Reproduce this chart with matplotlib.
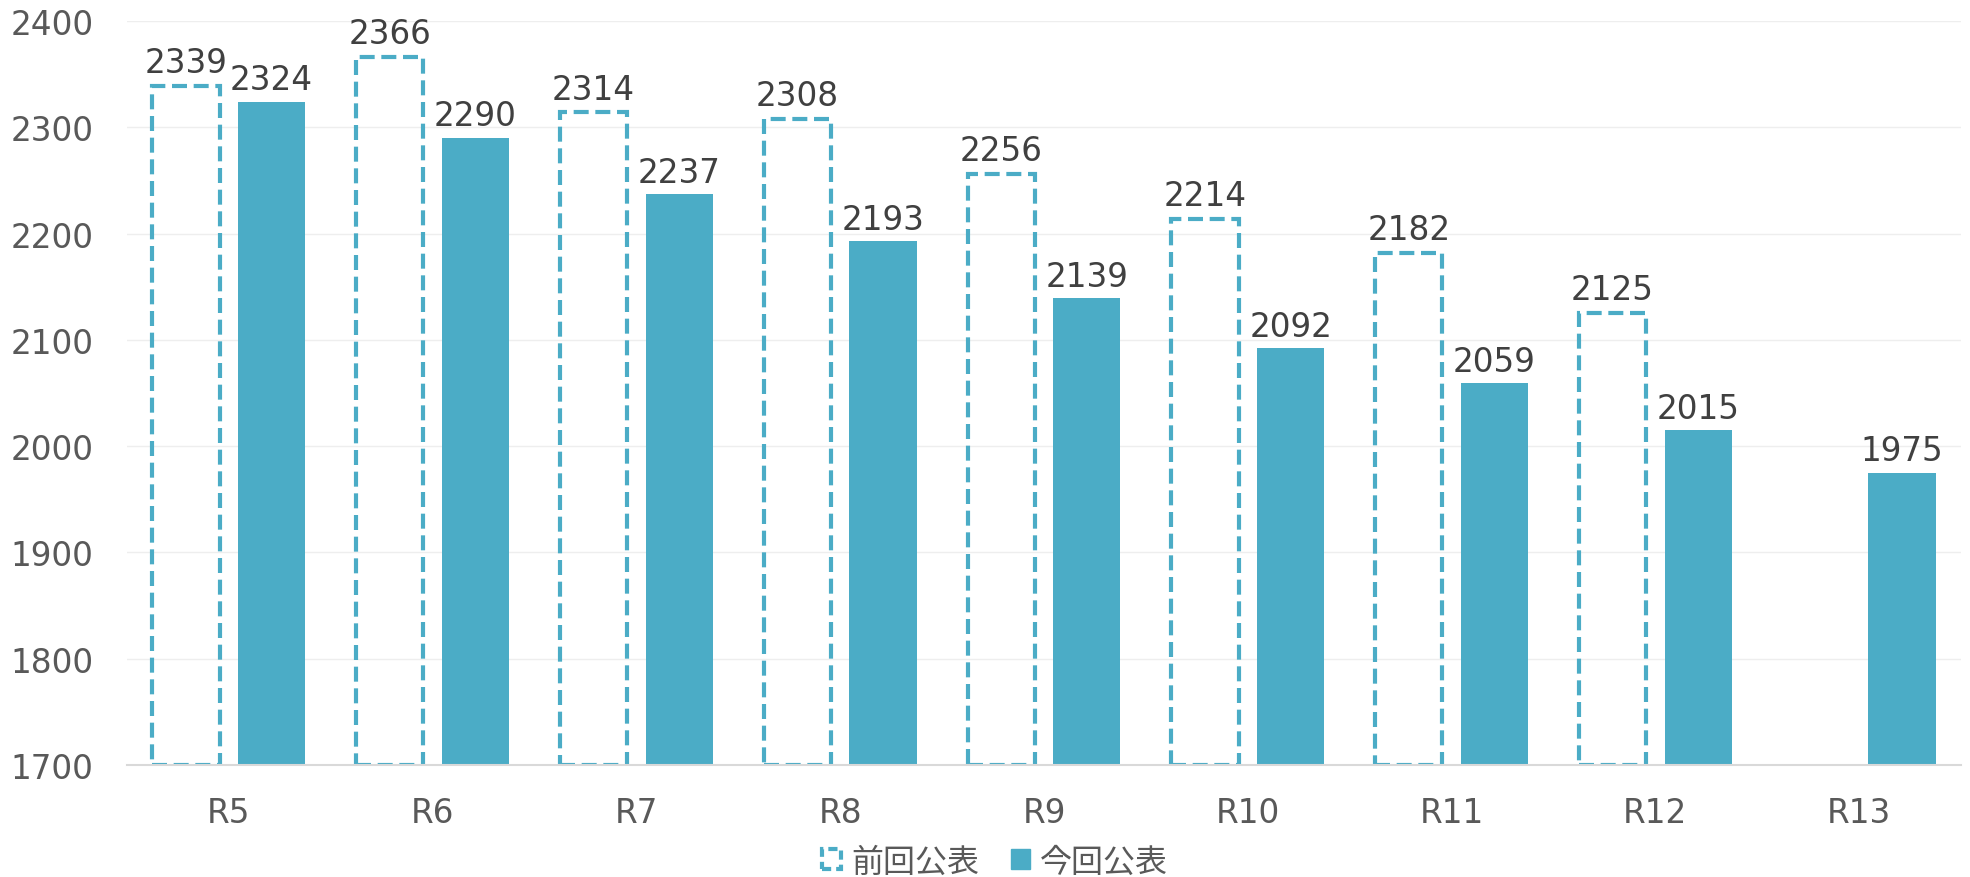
import matplotlib
matplotlib.use("Agg")
import matplotlib.pyplot as plt
import matplotlib.patches as mpatches
import numpy as np

plt.rcParams['font.family'] = ['DejaVu Sans', 'Noto Sans CJK JP']

# data
categories = ['R5', 'R6', 'R7', 'R8', 'R9', 'R10', 'R11', 'R12', 'R13']
previous = [2339, 2366, 2314, 2308, 2256, 2214, 2182, 2125, None]
current = [2324, 2290, 2237, 2193, 2139, 2092, 2059, 2015, 1975]
series_names = ['前回公表', '今回公表']

teal = '#4BACC6'
base = 1700

fig = plt.figure(figsize=(19.7, 8.78), dpi=100)
ax = fig.add_axes([127 / 1970, 1 - 766 / 878, (1961 - 127) / 1970, (766 - 22) / 878])

x = np.arange(len(categories))
w = 0.33
off = 0.21

prev_x = [xi - off for xi, v in zip(x, previous) if v is not None]
prev_v = [v for v in previous if v is not None]
ax.bar(prev_x, [v - base for v in prev_v], width=w, bottom=base,
       facecolor='none', edgecolor=teal, linewidth=3.0,
       linestyle=(0, (3.6, 1.6)), zorder=3)
ax.bar(x + off, [v - base for v in current], width=w, bottom=base,
       color=teal, zorder=3)

for xi, v in zip(prev_x, prev_v):
    ax.annotate(str(v), (xi, v), xytext=(0, 10), textcoords='offset points',
                ha='center', va='baseline', fontsize=23.5, color='#404040')
for xi, v in zip(x + off, current):
    ax.annotate(str(v), (xi, v), xytext=(0, 9), textcoords='offset points',
                ha='center', va='baseline', fontsize=23.5, color='#404040')

ax.set_xlim(-0.5, 8.5)
ax.set_ylim(1700, 2400)
ax.set_yticks(range(1700, 2401, 100))
ax.set_xticks(x)
ax.set_xticklabels(categories)
ax.tick_params(axis='both', length=0, labelsize=23.5, labelcolor='#595959')
ax.tick_params(axis='y', pad=24)
ax.tick_params(axis='x', pad=22)
ax.grid(axis='y', color='#EEEEEE', linewidth=1, zorder=0)
ax.set_axisbelow(True)
for s in ['top', 'right', 'left']:
    ax.spines[s].set_visible(False)
ax.spines['bottom'].set_color('#D9D9D9')
ax.spines['bottom'].set_linewidth(1.5)
ax.spines['bottom'].set_zorder(4)

handles = [
    mpatches.Patch(facecolor='none', edgecolor=teal, linewidth=3.0, linestyle=(0, (2.2, 1.2))),
    mpatches.Patch(facecolor=teal, edgecolor=teal),
]
fig.legend(handles, series_names, loc='center', bbox_to_anchor=(0.505, 1 - 863 / 878),
           ncol=2, frameon=False, fontsize=23, labelcolor='#595959',
           handlelength=0.6, handleheight=0.6, handletextpad=0.3,
           columnspacing=1.0, borderpad=0)

fig.savefig('out.png', dpi=100)
